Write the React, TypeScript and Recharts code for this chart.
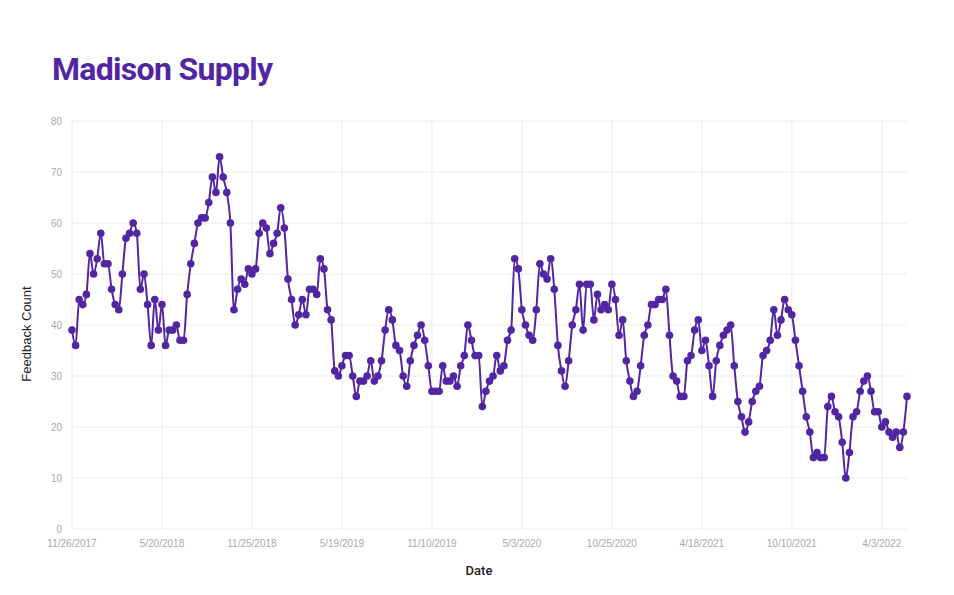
import { CartesianGrid, Line, LineChart, XAxis, YAxis } from 'recharts';

// weekly feedback counts
const feedbackCount = [
  39, 36, 45, 44, 46, 54, 50, 53, 58, 52, 52, 47, 44, 43, 50, 57, 58, 60, 58, 47,
  50, 44, 36, 45, 39, 44, 36, 39, 39, 40, 37, 37, 46, 52, 56, 60, 61, 61, 64, 69,
  66, 73, 69, 66, 60, 43, 47, 49, 48, 51, 50, 51, 58, 60, 59, 54, 56, 58, 63, 59,
  49, 45, 40, 42, 45, 42, 47, 47, 46, 53, 51, 43, 41, 31, 30, 32, 34, 34, 30, 26,
  29, 29, 30, 33, 29, 30, 33, 39, 43, 41, 36, 35, 30, 28, 33, 36, 38, 40, 37, 32,
  27, 27, 27, 32, 29, 29, 30, 28, 32, 34, 40, 37, 34, 34, 24, 27, 29, 30, 34, 31,
  32, 37, 39, 53, 51, 43, 40, 38, 37, 43, 52, 50, 49, 53, 47, 36, 31, 28, 33, 40,
  43, 48, 39, 48, 48, 41, 46, 43, 44, 43, 48, 45, 38, 41, 33, 29, 26, 27, 32, 38,
  40, 44, 44, 45, 45, 47, 38, 30, 29, 26, 26, 33, 34, 39, 41, 35, 37, 32, 26, 33,
  36, 38, 39, 40, 32, 25, 22, 19, 21, 25, 27, 28, 34, 35, 37, 43, 38, 41, 45, 43,
  42, 37, 32, 27, 22, 19, 14, 15, 14, 14, 24, 26, 23, 22, 17, 10, 15, 22, 23, 27,
  29, 30, 27, 23, 23, 20, 21, 19, 18, 19, 16, 19, 26,
];

// one label every 25 points
const xTickLabels = [
  '11/26/2017', '5/20/2018', '11/25/2018', '5/19/2019', '11/10/2019',
  '5/3/2020', '10/25/2020', '4/18/2021', '10/10/2021', '4/3/2022',
];
const xTickWeeks = xTickLabels.map((_, i) => i * 25);

const yTicks = [0, 10, 20, 30, 40, 50, 60, 70, 80];

const purple = '#5226a3';

const data = feedbackCount.map((count, i) => ({ week: i, count }));

// vertical grid only at the labelled weeks (no line on the right edge)
function gridX(props: any): number[] {
  const scale = props?.xAxis?.scale;
  if (typeof scale === 'function') return xTickWeeks.map((w) => scale(w));
  if (scale && typeof scale.map === 'function') return xTickWeeks.map((w) => scale.map(w));
  const off = props?.offset;
  if (off) {
    const step = off.width / (feedbackCount.length - 1);
    return xTickWeeks.map((w) => off.left + w * step);
  }
  return [];
}

export default function App() {
  return (
    <div
      style={{
        position: 'absolute',
        left: 0,
        top: 0,
        width: 954,
        height: 595,
        background: '#fff',
        fontFamily: 'Roboto, sans-serif',
      }}
    >
      <div
        style={{
          position: 'absolute',
          left: 52,
          top: 50,
          fontSize: 32,
          fontWeight: 700,
          color: purple,
          letterSpacing: -0.7,
          whiteSpace: 'nowrap',
        }}
      >
        Madison Supply
      </div>

      <LineChart
        width={954}
        height={595}
        data={data}
        margin={{ top: 121, right: 47, bottom: 36, left: 22 }}
      >
        <CartesianGrid stroke='#ececec' verticalCoordinatesGenerator={gridX} />
        <XAxis
          dataKey='week'
          interval={24}
          axisLine={false}
          tickLine={false}
          tickMargin={5}
          height={30}
          tick={{ fontSize: 10, fill: '#a9a9a9', fontFamily: 'Liberation Sans, Arial, sans-serif' }}
          tickFormatter={(v: number) => xTickLabels[Math.round(v / 25)] ?? ''}
        />
        <YAxis
          domain={[0, 80]}
          ticks={yTicks}
          width={50}
          axisLine={false}
          tickLine={false}
          tickMargin={4}
          tick={{ fontSize: 10, fill: '#a9a9a9', fontFamily: 'Liberation Sans, Arial, sans-serif' }}
        />
        <Line
          type='monotone'
          dataKey='count'
          stroke={purple}
          strokeWidth={2}
          dot={{ r: 3.8, fill: purple, stroke: purple, strokeWidth: 0 }}
          isAnimationActive={false}
        />
      </LineChart>

      <div
        style={{
          position: 'absolute',
          left: 26,
          top: 334,
          transform: 'translate(-50%, -50%) rotate(-90deg)',
          fontSize: 13,
          fontWeight: 500,
          color: '#222',
          whiteSpace: 'nowrap',
          fontFamily: 'Liberation Sans, Arial, sans-serif',
        }}
      >
        Feedback Count
      </div>
      <div
        style={{
          position: 'absolute',
          left: 479,
          top: 570,
          transform: 'translate(-50%, -50%)',
          fontSize: 13,
          fontWeight: 500,
          color: '#222',
          whiteSpace: 'nowrap',
        }}
      >
        Date
      </div>
    </div>
  );
}
